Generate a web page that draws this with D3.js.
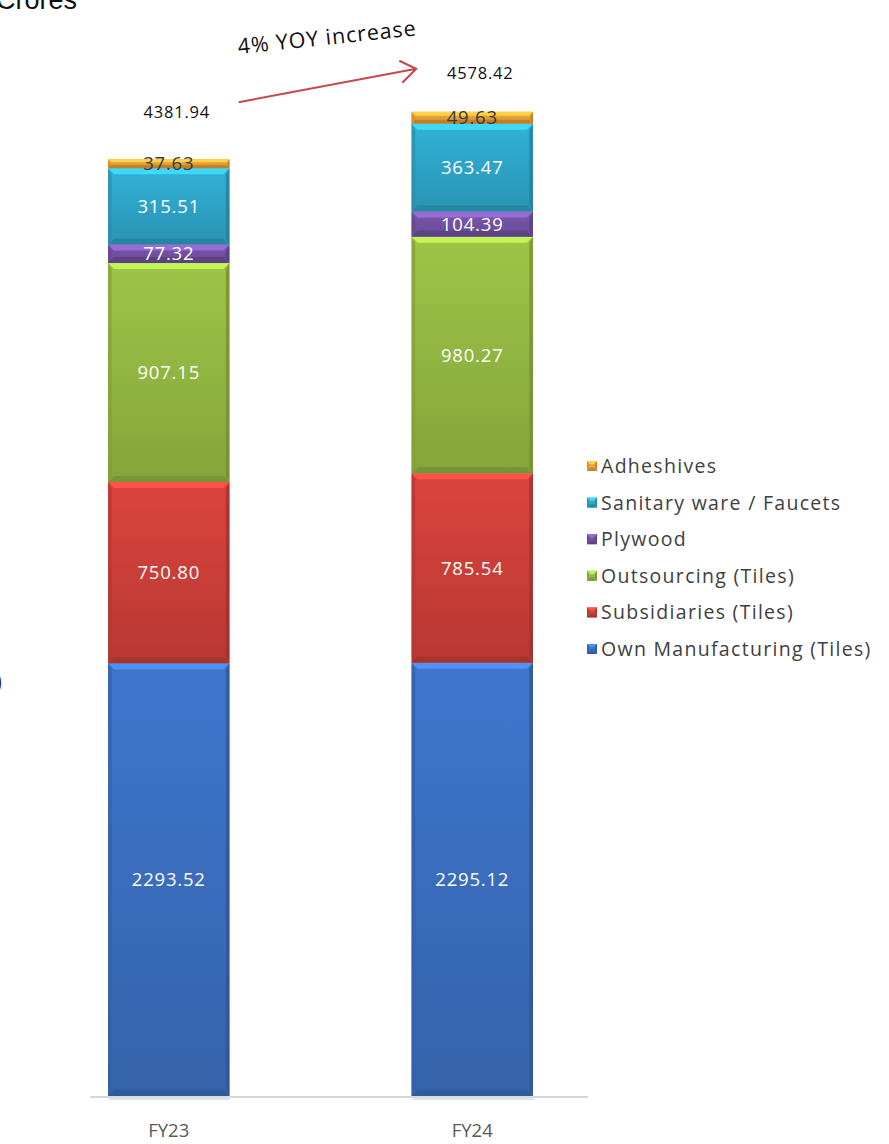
<!DOCTYPE html>
<html>
<head>
<meta charset="utf-8">
<script src="https://cdn.jsdelivr.net/npm/d3@7"></script>
<style>
  html, body { margin: 0; padding: 0; background: #fff; overflow: hidden; }
  svg { display: block; }
</style>
</head>
<body>
<svg id="chart" width="889" height="1144"></svg>
<script>
// Revenue mix by business segment (Rs. in Crores)
const categories = ["FY23", "FY24"];
const seriesNames = [
  "Own Manufacturing (Tiles)",
  "Subsidiaries (Tiles)",
  "Outsourcing (Tiles)",
  "Plywood",
  "Sanitary ware / Faucets",
  "Adheshives"
];
const ownManufacturing = [2293.52, 2295.12];
const subsidiaries     = [750.80, 785.54];
const outsourcing      = [907.15, 980.27];
const plywood          = [77.32, 104.39];
const sanitaryware     = [315.51, 363.47];
const adhesives        = [37.63, 49.63];
const totals           = [4381.94, 4578.42];
const yoyText = "4% YOY increase";
const yDomain = [500, 5000];

const seriesValues = [ownManufacturing, subsidiaries, outsourcing, plywood, sanitaryware, adhesives];
const seriesColors = ["#3c70c2", "#d1403a", "#96bb43", "#7553a6", "#2fa8cc", "#eda236"];
const labelColors  = ["#ffffff", "#ffffff", "#ffffff", "#ffffff", "#ffffff", "#3a3a3a"];

const rows = categories.map((c, i) => {
  const r = { category: c };
  seriesNames.forEach((s, j) => { r[s] = seriesValues[j][i]; });
  return r;
});

const svg = d3.select("#chart");
const font = "'Open Sans', Lato, sans-serif";

const x = d3.scaleBand()
  .domain(categories)
  .range([17, 624])
  .paddingInner(0.6)
  .paddingOuter(0.3);

const y = d3.scaleLinear()
  .domain(yDomain)
  .range([1096, 10])
  .clamp(true);

const stack = d3.stack().keys(seriesNames);
const layers = stack(rows);

const defs = svg.append("defs");
seriesColors.forEach((c, i) => {
  const g = defs.append("linearGradient")
    .attr("id", "grad" + i)
    .attr("x1", 0).attr("y1", 0).attr("x2", 0).attr("y2", 1);
  g.append("stop").attr("offset", "0%").attr("stop-color", d3.color(c).brighter(0.15));
  g.append("stop").attr("offset", "100%").attr("stop-color", d3.color(c).darker(0.35));
});

// axis baseline
svg.append("line")
  .attr("x1", 90).attr("x2", 588)
  .attr("y1", y(yDomain[0]) + 1).attr("y2", y(yDomain[0]) + 1)
  .attr("stroke", "#c8c8c8").attr("stroke-width", 1.5);

// draws one bevelled block (face + highlight + shaded edges)
function bevelBlock(g, x0, y0, w, h, color, gradId) {
  const b = Math.max(1.5, Math.min(6, h / 3));
  const c = d3.color(color);
  g.append("rect")
    .attr("x", x0).attr("y", y0).attr("width", w).attr("height", h)
    .attr("fill", gradId ? `url(#${gradId})` : color);
  // top highlight
  g.append("path")
    .attr("d", `M${x0},${y0} L${x0 + w},${y0} L${x0 + w - b},${y0 + b} L${x0 + b},${y0 + b} Z`)
    .attr("fill", c.brighter(0.8)).attr("opacity", 0.9);
  // bottom shade
  g.append("path")
    .attr("d", `M${x0},${y0 + h} L${x0 + w},${y0 + h} L${x0 + w - b},${y0 + h - b} L${x0 + b},${y0 + h - b} Z`)
    .attr("fill", c.darker(0.7)).attr("opacity", 0.85);
  // left side
  g.append("path")
    .attr("d", `M${x0},${y0} L${x0 + b * 0.6},${y0 + b} L${x0 + b * 0.6},${y0 + h - b} L${x0},${y0 + h} Z`)
    .attr("fill", c.darker(0.45)).attr("opacity", 0.7);
  // right side
  g.append("path")
    .attr("d", `M${x0 + w},${y0} L${x0 + w - b * 0.6},${y0 + b} L${x0 + w - b * 0.6},${y0 + h - b} L${x0 + w},${y0 + h} Z`)
    .attr("fill", c.darker(0.8)).attr("opacity", 0.75);
}

// soft shadow under each bar
categories.forEach(cat => {
  svg.append("rect")
    .attr("x", x(cat) + 1).attr("y", y(yDomain[0]))
    .attr("width", x.bandwidth()).attr("height", 4)
    .attr("fill", "#d6dbe4").attr("opacity", 0.8);
});

const barsG = svg.append("g");
layers.forEach((layer, i) => {
  const lg = barsG.append("g").attr("class", "series");
  layer.forEach(d => {
    const x0 = x(d.data.category);
    const yTop = y(d[1]);
    const yBot = y(d[0]);
    bevelBlock(lg, x0, yTop, x.bandwidth(), yBot - yTop, seriesColors[i], "grad" + i);
  });
});

// segment value labels
layers.forEach((layer, i) => {
  svg.append("g").selectAll("text")
    .data(layer)
    .join("text")
    .attr("x", d => x(d.data.category) + x.bandwidth() / 2)
    .attr("y", d => (y(d[0]) + y(d[1])) / 2)
    .attr("dy", "0.36em")
    .attr("text-anchor", "middle")
    .attr("font-family", font)
    .attr("font-size", 18.5)
    .attr("letter-spacing", 0.8)
    .attr("fill", labelColors[i])
    .text(d => d3.format(".2f")(d.data[layer.key]));
});

// category labels
svg.append("g").selectAll("text")
  .data(categories)
  .join("text")
  .attr("x", d => x(d) + x.bandwidth() / 2)
  .attr("y", 1130)
  .attr("dy", "0.36em")
  .attr("text-anchor", "middle")
  .attr("font-family", font)
  .attr("font-size", 18.5)
  .attr("fill", "#595959")
  .text(d => d);

// totals above bars
const totalOffsets = [-47, -39];
const totalPos = categories.map((c, i) => ({
  x: x(c) + x.bandwidth() / 2 + 8,
  y: y(totals[i]) + totalOffsets[i],
  v: totals[i]
}));
svg.append("g").selectAll("text")
  .data(totalPos)
  .join("text")
  .attr("x", d => d.x).attr("y", d => d.y)
  .attr("dy", "0.36em")
  .attr("text-anchor", "middle")
  .attr("font-family", font)
  .attr("font-size", 16.5)
  .attr("letter-spacing", 0.8)
  .attr("fill", "#111")
  .text(d => d3.format(".2f")(d.v));

// YOY arrow
const arrowStart = [totalPos[0].x + 62, totalPos[0].y - 10];
const arrowEnd = [totalPos[1].x - 64, totalPos[1].y - 4];
const arrowCol = "#c8474a";
svg.append("line")
  .attr("x1", arrowStart[0]).attr("y1", arrowStart[1])
  .attr("x2", arrowEnd[0]).attr("y2", arrowEnd[1])
  .attr("stroke", arrowCol).attr("stroke-width", 2);
svg.append("path")
  .attr("d", `M${arrowEnd[0] - 17},${arrowEnd[1] - 8} L${arrowEnd[0]},${arrowEnd[1]} L${arrowEnd[0] - 14},${arrowEnd[1] + 14}`)
  .attr("fill", "none").attr("stroke", arrowCol).attr("stroke-width", 2)
  .attr("stroke-linejoin", "miter");

svg.append("text")
  .attr("transform", `translate(327,37) rotate(-6)`)
  .attr("text-anchor", "middle")
  .attr("dy", "0.36em")
  .attr("font-family", font)
  .attr("font-size", 21.5)
  .attr("letter-spacing", 0.9)
  .attr("fill", "#111")
  .text(yoyText);

// unit caption (clipped at top edge)
svg.append("text")
  .attr("x", -4).attr("y", 9)
  .attr("font-family", "'Liberation Sans', Arial, sans-serif")
  .attr("font-size", 27)
  .attr("fill", "#111")
  .text("Crores");

// fragment of rotated axis title at left edge
svg.append("text")
  .attr("x", -6).attr("y", 690)
  .attr("font-family", "'Liberation Sans', Arial, sans-serif")
  .attr("font-size", 26)
  .attr("fill", "#333")
  .text(")");

// legend (top to bottom: last series first)
const legendItems = seriesNames.map((s, i) => ({ name: s, color: seriesColors[i] })).reverse();
const legend = svg.append("g").attr("transform", "translate(587,466)");
legendItems.forEach((d, i) => {
  const g = legend.append("g").attr("transform", `translate(0,${i * 36.6})`);
  bevelBlock(g, 0, -5, 10, 10, d.color, null);
  g.append("text")
    .attr("x", 14).attr("y", 0)
    .attr("dy", "0.36em")
    .attr("font-family", font)
    .attr("font-size", 19.5)
    .attr("letter-spacing", 1.3)
    .attr("fill", "#404040")
    .text(d.name);
});
</script>
</body>
</html>
